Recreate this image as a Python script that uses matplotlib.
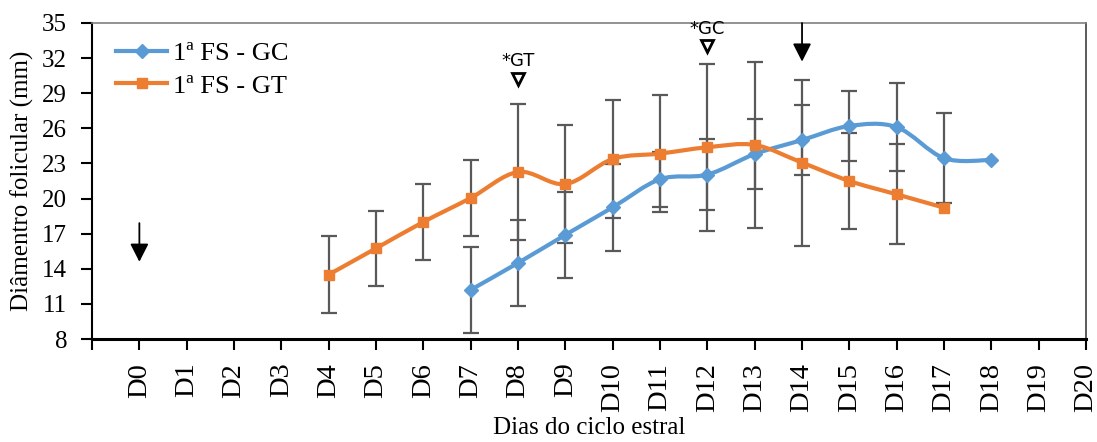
import numpy as np
import matplotlib
matplotlib.use('Agg')
import matplotlib.pyplot as plt
from matplotlib.path import Path
from matplotlib.patches import PathPatch

plt.rcParams['font.family'] = ['Liberation Serif', 'DejaVu Serif']

# Data
day_labels = ['D%d' % d for d in range(21)]

gc_days = [7, 8, 9, 10, 11, 12, 13, 14, 15, 16, 17, 18]
gc_mean = [12.2, 14.5, 16.9, 19.25, 21.65, 22.05, 23.8, 25.0, 26.2, 26.1, 23.45, 23.3]
gc_err = [3.65, 3.65, 3.7, 3.7, 2.35, 3.0, 3.0, 2.97, 3.0, 3.76, 3.84, None]

gt_days = [4, 5, 6, 7, 8, 9, 10, 11, 12, 13, 14, 15, 16, 17]
gt_mean = [13.5, 15.75, 18.0, 20.05, 22.27, 21.24, 23.38, 23.84, 24.38, 24.58, 23.07, 21.5, 20.36, 19.22]
gt_err = [3.3, 3.2, 3.25, 3.25, 5.8, 5.02, 5.04, 5.03, 7.12, 7.12, 7.1, 4.08, 4.28, None]

# events marked above the curves
event_days = [8, 12]
event_labels = ['*GT', '*GC']
event_y = [30.2, 33.0]

# arrows (day, start, end)
arrow_days = [0, 14]
arrow_from = [17.9, 35.0]
arrow_to = [14.6, 31.7]

blue = '#5B9BD5'
orange = '#ED7D31'
err_col = '#595959'


def smooth_path(xs, ys):
    # Catmull-Rom style bezier like Excel's smoothed line
    xs = np.asarray(xs, float)
    ys = np.asarray(ys, float)
    verts = [(xs[0], ys[0])]
    codes = [Path.MOVETO]
    n = len(xs)
    for i in range(n - 1):
        p0 = np.array([xs[max(i - 1, 0)], ys[max(i - 1, 0)]])
        p1 = np.array([xs[i], ys[i]])
        p2 = np.array([xs[i + 1], ys[i + 1]])
        p3 = np.array([xs[min(i + 2, n - 1)], ys[min(i + 2, n - 1)]])
        c1 = p1 + (p2 - p0) / 6.0
        c2 = p2 - (p3 - p1) / 6.0
        verts += [tuple(c1), tuple(c2), tuple(p2)]
        codes += [Path.CURVE4] * 3
    return Path(verts, codes)


fig = plt.figure(figsize=(10.97, 4.42), dpi=100)
ax = fig.add_axes([0.0839, 0.233, 0.9061, 0.715])

for days, mean, err, col, mk, ms, lab in [
        (gc_days, gc_mean, gc_err, blue, 'D', 7, '1ª FS - GC'),
        (gt_days, gt_mean, gt_err, orange, 's', 7, '1ª FS - GT')]:
    ed = [d for d, e in zip(days, err) if e is not None]
    em = [m for m, e in zip(mean, err) if e is not None]
    ee = [e for e in err if e is not None]
    ax.errorbar(ed, em, yerr=ee, fmt='none', ecolor=err_col, elinewidth=1.6,
                capsize=6, capthick=1.6, zorder=2)
    ax.add_patch(PathPatch(smooth_path(days, mean), facecolor='none',
                           edgecolor=col, lw=3, zorder=3, capstyle='round'))
    ax.plot(days, mean, linestyle='none', marker=mk, ms=ms, color=col, zorder=4)
    ax.plot([], [], color=col, lw=3, marker=mk, ms=ms, label=lab)

for d, lab, y in zip(event_days, event_labels, event_y):
    ax.plot(d, y, marker='v', ms=9, mfc='white', mec='black', mew=2,
            clip_on=False, zorder=5)
    ax.text(d, y + 0.75, lab, ha='center', va='bottom', fontsize=13,
            family='DejaVu Sans', clip_on=False)

for d, y0, y1 in zip(arrow_days, arrow_from, arrow_to):
    ax.annotate('', xy=(d, y1), xytext=(d, y0),
                arrowprops=dict(arrowstyle='-|>,head_length=0.55,head_width=0.28',
                                color='black', lw=1.3, shrinkA=0, shrinkB=0,
                                mutation_scale=20))

ax.set_xlim(-1, 20)
ax.set_ylim(8, 35)
ax.set_yticks(np.arange(8, 36, 3))
ax.set_xticks(np.arange(-1, 21), [''] + day_labels, rotation=90)
ax.tick_params(axis='x', direction='out', length=8, width=1.5, pad=9, labelsize=20.5)
ax.tick_params(axis='y', direction='out', length=8, width=1.5, pad=10, labelsize=18)

ax.spines['bottom'].set_linewidth(2.2)
ax.spines['left'].set_linewidth(1.5)
ax.spines['top'].set_color('#808080')
ax.spines['top'].set_linewidth(1.2)
ax.spines['right'].set_color('#404040')
ax.spines['right'].set_linewidth(1.2)

ax.set_ylabel('Diâmentro folicular (mm)', fontsize=18, labelpad=6)
ax.set_xlabel('Dias do ciclo estral', fontsize=18, labelpad=4)

ax.legend(loc='upper left', bbox_to_anchor=(0.006, 1.0), frameon=False,
          fontsize=19, handlelength=1.9, handletextpad=0.25, labelspacing=0.35,
          borderaxespad=0.3)

fig.savefig('out.png', dpi=100)
